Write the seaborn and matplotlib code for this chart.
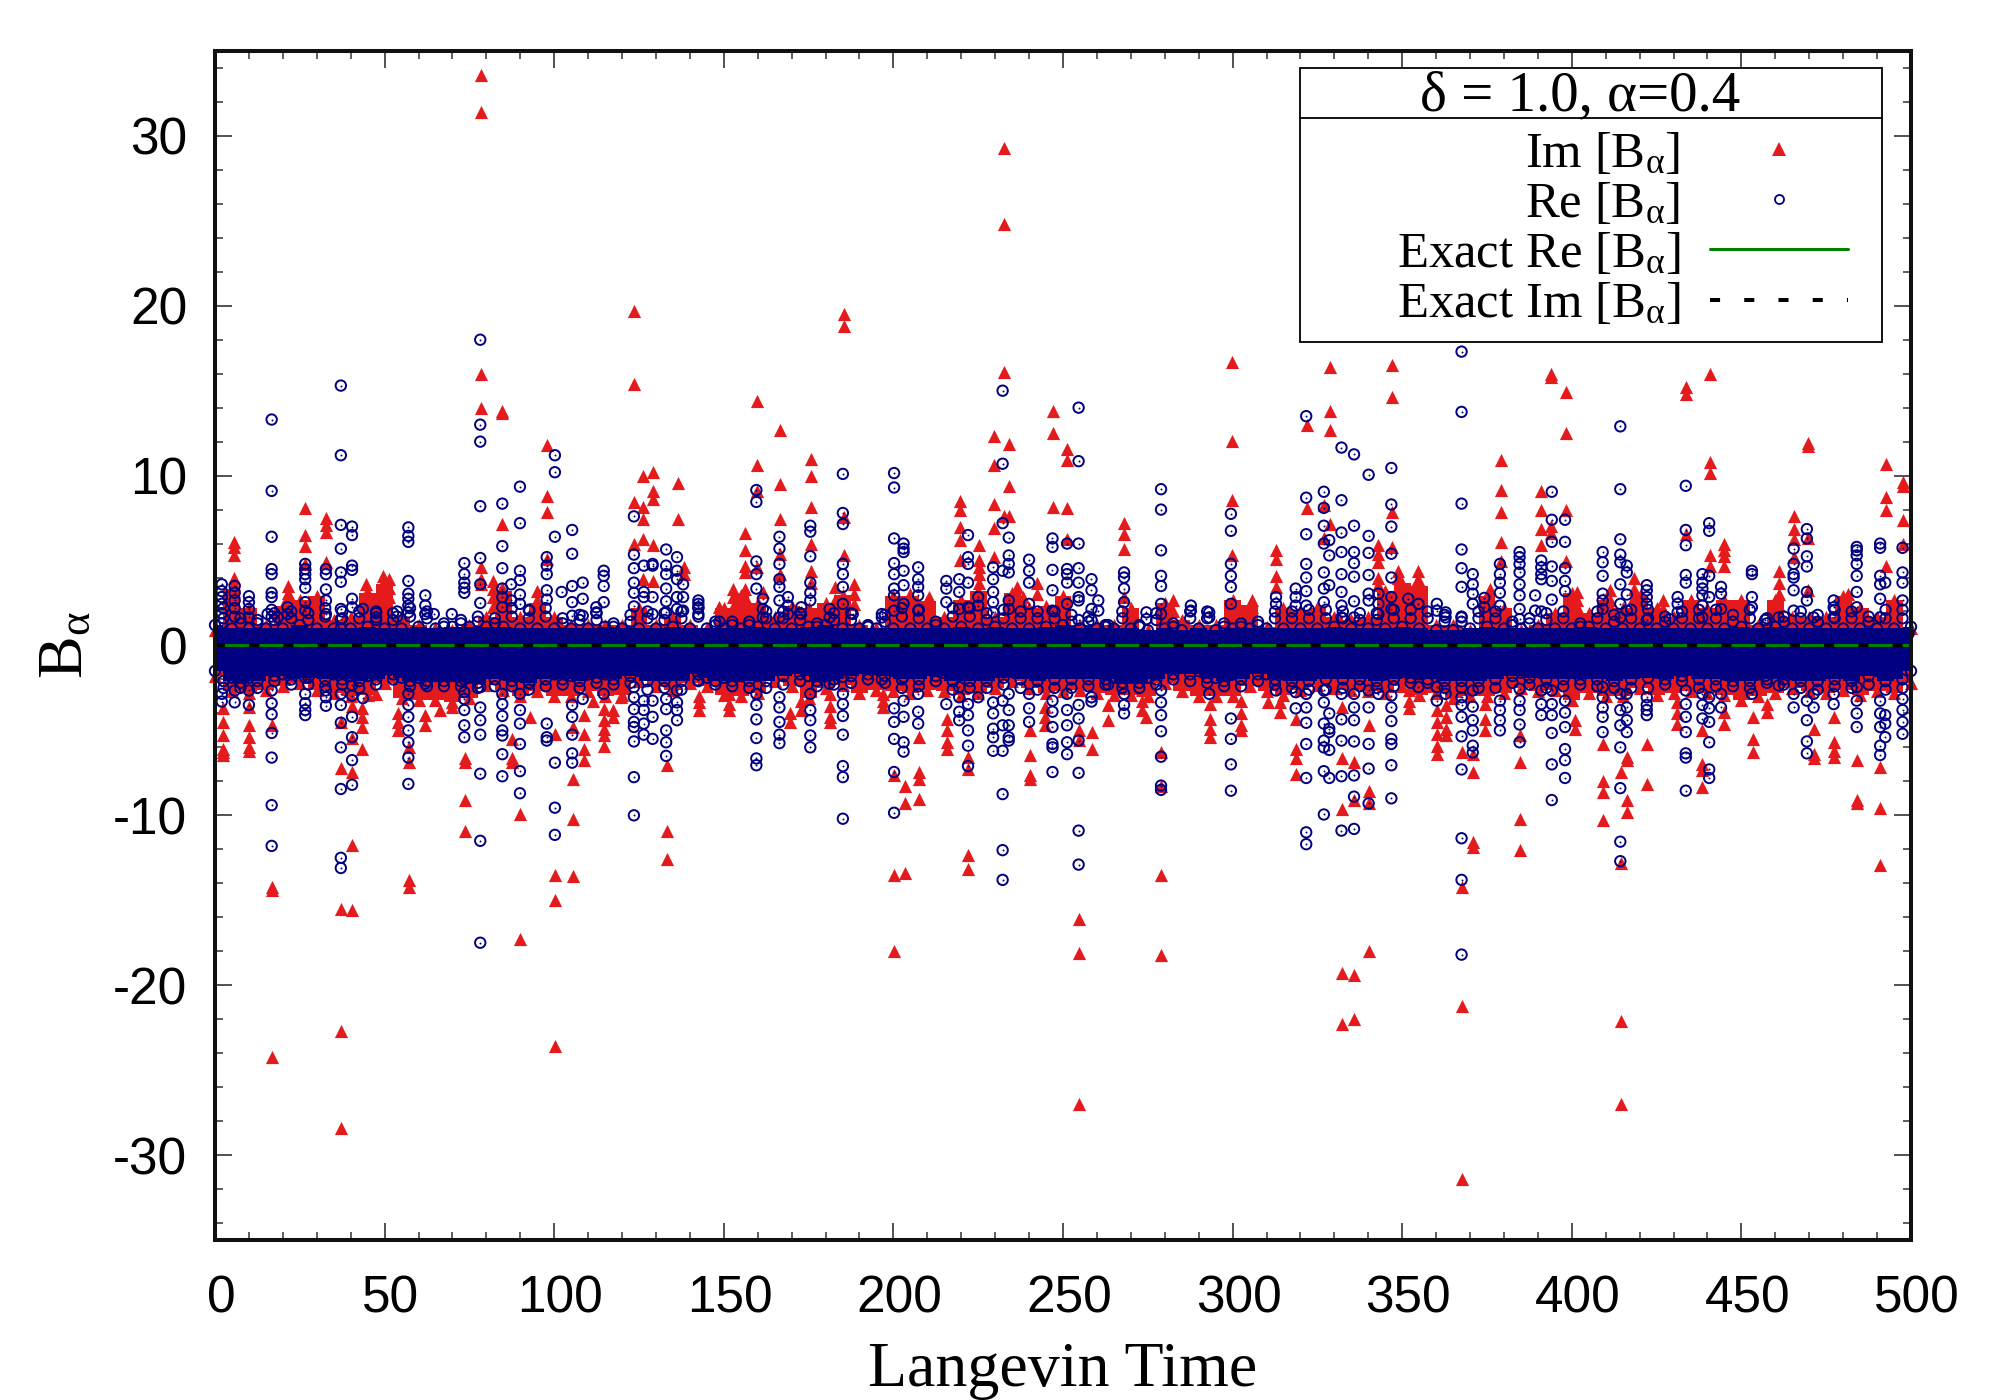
import pandas as pd
import seaborn as sns
import matplotlib.pyplot as plt
from matplotlib.lines import Line2D
from matplotlib.patches import Rectangle
from matplotlib.transforms import ScaledTranslation

# columns of isolated points
im_times = [2.3, 5.7, 9.9, 16.7, 21.4, 26.6, 32.7, 37.2, 40.5, 43.3, 44.5, 47.5, 49.5, 51.4, 53.9, 57.1, 62, 66.4, 70, 73.8, 78.3, 82, 84.7, 87.5, 89.8, 93, 95, 97.8,
            100.3, 105.5, 108.7, 111.4, 114.8, 117.3, 119.7, 123.6, 126.3, 129.2, 133.3, 136.4, 138.4, 142.8, 148.7, 151.6, 152.7, 156.2, 159.7, 161.5, 166.7, 169.4, 172.8, 175.6, 181.2, 182.7, 185.3, 188.3, 196.9,
            200.2, 203.5, 204.8, 207.6, 210.5, 215.8, 219.5, 222.1, 225.3, 229.8, 232.5, 234, 236.3, 238.2, 240.2, 242.2, 244.6, 247.1, 251.2, 254.6, 258.6, 263.3, 268, 273.3, 274.6, 279, 282.5, 293.3,
            299.7, 302.6, 305.6, 310.5, 312.8, 314, 318.6, 321.8, 326.9, 328.6, 332.3, 335.9, 340.2, 343, 346.9, 348.9, 352, 354.8, 360.2, 362.8, 367.6, 371, 374.4, 375.9, 379, 384.8, 390.9, 393.9, 398.2,
            400.8, 401.5, 409.3, 411.3, 414.4, 416.2, 418.2, 422.1, 426.8, 431, 433.7, 438.5, 440.7, 445, 453.3, 457.5, 461, 465.4, 469.5, 471.3, 477.2, 481.3, 484, 491, 492.5, 497.6]
im_values = [[-3.7, -4.5, -5.3, -6.1, -6.3, -6.45], [6.1, 5.8, 5.35, 4.0, 3.6, 3.2], [-3.6, -4.7, -5.4, -6, -6.2], [-4.7, -14.2, -14.4, -24.2], [3.5, 3.1, 2.85, 2.45], [8.1, 6.5, 5.85, 4.8], [7.5, 7.1, 6.7, 4.9], [-4.5, -7.2, -15.5, -22.7, -28.4], [-3.55, -5.45, -7.45, -11.75, -15.6], [-3.7, -4.2, -4.8, -6.1], [3.6, 3.05, 2.65, 2], [-2.85], [4.1, 3.7, 3.2, 2.65, 2.15], [3.9, 3.4, 2.85], [-4, -4.5, -5], [-6, -6.85, -13.8, -14.2], [-4.1, -4.7], [-3.8], [-3.6], [-6.65, -6.85, -9.1, -10.95], [33.6, 31.4, 16, 14, 4.6, 3.9, 3.6], [3.8, 3.3, 2.85, 2.25], [13.8, 13.7, 7.15, 3.4, 3], [-5.5, -6.65, -6.85], [-9.9, -17.3], [-4.2], [3.2, 2.65, 2.05], [11.8, 8.8, 7.85, 5.1],
             [-5.2, -13.5, -15, -23.6], [-4.8, -7.85, -10.2, -13.6], [-4.1, -5.2, -6.1, -6.75], [-3.25], [-3.75, -4.4, -4.9, -5.3, -5.9], [-3.8, -4.2], [-3.05], [19.7, 15.4, 8.45, 6], [10, 8.15, 7.45, 6.25, 3.9], [10.2, 9.1, 8.6, 5.9, 3.8], [-7.05, -10.9, -12.55], [9.55, 7.45], [4.6, 4.2], [-2.95, -3.35, -3.8], [2.25], [-2.85, -3.45, -3.8], [3.35, 2.85, 2.25, 1.85], [6.65, 5.6, 4.7, 4.3, 3.35, 2.85, 2.25], [14.4, 10.6, 9.1, 4.6], [3.15], [12.7, 9.5, 7.45, 5.4, 4.2], [-4, -4.5], [-3.25, -3.8], [11, 9.95, 8.15, 6, 4.4, 3.7], [-2.85, -3.55, -4.2, -4.5], [3.45, 2.65], [19.5, 18.8, 7.55, 5.3], [3.6, 3.05, 2.45], [-2.85, -3.25, -3.6],
             [-7.65, -13.5, -18], [-8.25, -9.3, -13.4], [3.05, 2.45], [-5.4, -7.45, -7.85, -9.05], [2.85, 2.35, 1.85], [-4.3, -5, -5.7, -6.1], [8.5, 8, 7, 6.2, 5.05], [-6.55, -7.25, -12.35, -13.15], [5.9, 5.05, 4.6, 4.2, 3.7], [12.35, 10.65, 8.3, 6.9, 5.2], [29.3, 24.8, 16.1, 7.65], [11.85, 9.4, 7.65], [3.45, 2.85], [2.85, 2.45], [-5, -6.45, -7.65, -7.85], [3.7, 3.05], [-3.65, -4.2, -4.7], [13.8, 12.5, 8.15], [11.55, 10.9, 8.1, 6.25], [-5, -5.55, -16.1, -18.1, -27], [-5.1, -6.1], [-3.5, -4.4], [7.2, 6.55, 5.7, 2.85], [-2.65, -3.25, -3.8], [-4.2], [-6.25, -8.25, -13.5, -18.2], [2.65, 2.05], [-3.45, -4.3, -4.9, -5.4],
             [16.7, 12.05, 8.55, 5.3], [-3.25, -4, -4.7, -5], [2.65, 2.25], [-3.35], [5.6, 5.1, 4.1, 3.45], [-3.35, -3.9], [-4.3, -6.1, -6.65, -7.55], [13, 8.1], [8.25, 6.35], [16.4, 13.8, 12.7, 7.15], [-3.6, -6.65, -9.6, -19.3, -22.3], [-6.85, -9.1, -19.4, -22], [-4.7, -8.55, -9.3, -18], [5.9, 5.4, 4.9, 4, 3.55], [16.5, 14.6, 7.85, 5.8], [4.4, 4, 3.45, 2.85], [-2.65, -3.25, -3.7], [4.4, 3.9, 3.25], [-3.8, -4.5, -5.2, -5.9, -6.4], [-3.5, -4.2, -4.9, -5.3], [-6.3, -14.2, -21.2, -31.4], [-6.4, -7.45, -11.55, -11.85], [-3.45, -4.3, -5], [3.35, 2.85], [10.9, 9.15, 7.85, 6.1, 5], [-5.3, -6.85, -10.2, -12.05], [9.1, 7.95, 6.85, 5.9], [16, 15.8, 7.05, 6.65], [14.9, 12.5, 8, 5],
             [-4.4, -4.9], [3.15, 2.65, 2.25], [-5.8, -7.95, -8.65, -10.3], [3.25, 2.65], [-7.45, -12.8, -22.1, -27], [-6.55, -6.75, -9.1, -9.8], [4, 3.35, 2.85], [-5.8, -8.15], [2.65, 2.15], [-3.35, -4, -4.6], [15.2, 14.8, 6.55], [-5, -6.95, -7.35, -8.35], [16, 10.8, 10.15, 5.3, 4.65], [6, 5.6, 5.25, 4.7, -3.9, -4.6], [-4.2, -5.5, -6.3], [-3.45, -3.9], [4.4, 3.7, 3.05, 2.35], [7.65, 6.85, 6.25, 5.2], [11.9, 11.75, 6.3, 3.25], [-4.9, -6.4, -6.65], [-4.2, -5.7, -6.2, -6.55], [3.05, 2.45], [-6.75, -9.1, -9.3], [-7.15, -9.55, -12.95], [10.7, 8.75, 8, 4.7], [9.6, 9.4, 7.4, 6]]

re_times = [2, 5.8, 10, 15.5, 16.7, 18.5, 21.4, 26.6, 32.7, 37.1, 40.4, 43.6, 47.5, 53.7, 57, 62, 64.5, 69.8, 73.5, 78.2, 84.7, 87.3, 89.9, 92.7, 97.8,
            100.2, 102.2, 105.3, 108.4, 112.4, 114.6, 123.5, 126.4, 129, 133, 136.2, 138, 142.5, 148.7, 159.6, 161.5, 166.4, 168.9, 172.8, 175.5, 181.2, 185.1, 188, 196.6,
            200.2, 203, 207.3, 215.6, 219.4, 222, 225, 229.4, 232.2, 234, 240, 246.9, 251.2, 254.6, 258.4, 260.4, 263.3, 268, 274.6, 278.9, 287.7, 293.1,
            299.5, 312.8, 318.6, 321.7, 326.9, 328.5, 332.1, 335.8, 340.1, 343, 346.8, 351.8, 354.8, 360.2, 362.8, 367.5, 370.8, 374.2, 378.8, 384.6, 389.2, 391, 394.1, 398,
            409.1, 414.3, 416.2, 422.1, 428.8, 431.2, 433.6, 438.5, 440.5, 444, 453.1, 457, 461, 465.4, 469.3, 471.3, 477.2, 484, 490.9, 492.4, 497.5, 499.3]
re_values = [[3.6, 3.2, 2.85, 2.45, 1.9, 1.3, -2.85, -3.3], [3.5, 3.1, 2.65, 2.2, 1.7, -2.65, -3.35], [2.9, 2.55, 2.15, 1.65, -2.65, -3.5], [1.85], [13.3, 9.1, 6.4, 4.5, 4.2, 3.1, 2.85, 2.1, 1.7, -2.65, -3.4, -4.05, -5.15, -6.6, -9.4, -11.8], [1.65], [2.25, 1.85], [4.8, 4.5, 4.2, 3.9, 3.4, 2.55, 2.05, -1.9, -2.85, -3.4, -3.8, -4.1], [4.5, 4.2, 3.3, 2.65, 1.85, -2.65, -3.05, -3.55], [15.3, 11.2, 7.1, 5.7, 4.3, 3.75, 2.15, 1.55, 1, -2.85, -3.5, -4.55, -6, -8.45, -12.5, -13.1], [7, 6.5, 4.7, 4.45, 2.75, 2.25, -2.35, -2.95, -4.2, -5.4, -6.75, -8.2], [2.15, -3.1], [2, 1.65], [2, 1.7], [6.95, 6.45, 6.1, 3.8, 3.05, 2.75, 2.35, 1.95, -2.85, -3.5, -4.2, -5, -5.7, -6.6, -8.15], [2.95, 2.35, 1.85, -2.25], [1.85], [1.85], [4.85, 4.2, 3.7, 3.4, 3.1, -2, -2.75, -3.15, -3.8, -4.7, -5.4], [18, 13, 12, 8.2, 5.15, 3.6, 2.5, -2.45, -3.65, -4.4, -5.25, -7.55, -11.5, -17.5], [8.35, 5.85, 4.55, 3.35, 2.85, 2.25, -2.85, -3.45, -4.15, -5, -5.3, -6.4, -7.7], [3.6, 2.65], [9.35, 7.2, 4.4, 3.85, 3, 2.45, -2.85, -3.8, -4.6, -5.8, -7.4, -8.7], [2.05, -2.25], [5.2, 4.7, 4.2, 3.25, 2.7, -4.6, -5.4, -5.6],
             [11.2, 10.2, 6.4, -6.9, -9.55, -11.15], [3.15], [6.8, 5.4, 3.5, 2.55, 1.75, -3.5, -4.2, -5.25, -6.35, -6.9], [3.7, 2.75, 1.75, -3.15], [2.25, 1.95], [4.4, 4.1, 3.5, 2.55, -2.85], [7.6, 5.35, 4.55, 3.7, 3.1, 2.3, -2.45, -3.05, -3.75, -4.5, -4.8, -5.65, -7.75, -10], [4.7, 3.15, 2.85, -3.25, -3.8, -4.6, -5.25], [4.8, 4.7, 2.85, 1.85, -3.25, -4.2, -5.5], [5.65, 4.7, 4.2, 3.35, 2.6, 1.95, -3.15, -3.75, -5, -5.7, -6.5], [5.2, 4.4, 3.9, 2.85, 2.15, -2.65, -3.35, -3.8, -4.4], [3.6, 2.85, 2.05], [2.65, 2.45, 2.25, 1.85, -2.05], [1.4], [9.15, 8.45, 4.95, 4.2, 3.35, -2.85, -3.5, -4.35, -5.45, -6.65, -7.05], [2.75, 2.15, 1.65], [6.4, 5.7, 4.8, 3.9, 3.45, 2.65, 1.65, -3.05, -3.65, -4.5, -5.25, -5.75], [2.85, 2.35, 1.85], [2.25, 1.85], [7.05, 6.7, 5.25, 3.7, 3.1, 2.65, -2.85, -3.8, -4.4, -5.3, -6], [2.15, 1.65, -2.25], [10.1, 7.8, 7.15, 4.8, 4.2, 3.45, 2.45, -1.85, -2.85, -3.45, -4.15, -5.25, -7.1, -7.75, -10.2], [1.85], [1.85, 1.65, -2],
             [10.15, 9.3, 6.3, 4.85, 4.2, 3.35, 2.95, 2.05, -3.7, -4.5, -5.5, -7.45, -9.85], [6, 5.7, 5.5, 4.4, 3.55, 2.45, -1.85, -3.25, -4.2, -5.7, -6.25], [4.6, 3.9, 3.45, 2.95, 2.05, -2.85, -3.9, -4.6], [3.8, 3.35, 2.55, -3.45], [3.9, 3.15, 2.15, -2.45, -3.05, -3.9, -4.4], [6.5, 5.2, 4.8, 3.7, 2.25, -3.45, -4.1, -5, -5.9, -7.1], [2.85, 2.35, -3.05], [4.6, 3.9, 3.15, 2.55, 1.95, -3.35, -4, -4.9, -5.4, -6.2], [15, 10.7, 7.2, 4.4, -3.25, -4.7, -6.2, -8.75, -12.05, -13.8], [6.35, 5.3, 4.8, 4.3, 2.65, 2.15, -2.85, -3.8, -4.7, -5.4, -5.6], [5.05, 4.4, 3.7, 2.45, -2.85, -3.7, -4.5], [6.3, 5.8, 4.45, 3.25, 2.05, -3.25, -3.9, -4.8, -5.8, -6, -7.45], [6, 4.5, 4.2, 3.7, 2.45, -2.85, -3.8, -4.7, -5.7, -6.4], [14, 10.85, 6, 4.55, 3.7, 2.85, 2.65, 1.5, -3.5, -4.3, -5.6, -7.5, -10.9, -12.9], [3.9, 3.25, 2.15, 1.5, -3.05, -3.3], [2.65, 2.05], [1.2, -2.3], [4.3, 4, 3.35, 2.55, -2.85, -3.5, -4], [1.95, 1.55], [9.2, 8, 5.6, 4.1, 3.5, 2.45, 1.85, -2.65, -3.35, -4.1, -5.05, -6.55, -8.25, -8.5], [2.35, 2.05], [1.95, 1.65, -2.85],
             [7.75, 6.75, 4.8, 4.1, 3.45, 2.45, -4.3, -5.5, -7, -8.55], [2.85, 2.45, -2.65], [3.35, 2.85, 2.35, -2.75, -3.7], [13.5, 8.7, 6.55, 4.8, 4, 3.2, 2.35, -2.85, -3.65, -4.55, -5.8, -7.8, -11, -11.7], [9.05, 8.1, 7.05, 6, 4.3, 3.35, 2.55, -2.65, -3.35, -4.6, -5.6, -6, -7.4, -9.95], [6.2, 5.3, 3.55, -4, -4.9, -5.1, -6.15, -7.8], [11.65, 8.55, 6.65, 5.5, 4.2, 3.15, 2.35, 1.65, -2.85, -4.35, -5.6, -7.7, -10.9], [11.25, 7.05, 5.5, 4.85, 4.05, 2.6, 1.65, -2.85, -3.65, -4.4, -5.65, -7.65, -8.9, -10.8], [10.05, 6.45, 5.45, 4.15, 3.05, 2.65, -2.65, -3.65, -5.8, -7.25, -9.3], [3.05, 2.45, 1.85, -2.85], [10.45, 8.3, 7, 5.4, 4, 2.85, 2.15, -2.95, -3.65, -4.45, -5.5, -5.8, -7.05, -9], [2.75], [2.45, -2.45], [2.45, 2.05, -2.45, -3.25], [1.95, 1.65, -2.85], [17.3, 13.75, 8.35, 5.65, 4.55, 3.45, 1.65, -3.05, -3.5, -4.2, -5.35, -7.3, -11.35, -13.8, -18.2], [4.2, 3.6, 3.05, 2.45, -2.65, -3.6, -4.4, -5, -5.9, -6.3], [2.8, 2.25], [4.8, 4.2, 3.7, 3.1, 2.35, -3.25, -3.8, -4.4, -5], [5.5, 5.2, 4.8, 4.3, 3.6, 2.95, 2.15, 1.55, -2.55, -3.25, -3.8, -4.65, -5.7], [2.95, 2.05], [5, 4.6, 4.2, 3.9, 2, -2.65, -3.45, -4.1], [9.05, 7.4, 6.1, 4.65, 3.8, 2.7, -2.65, -3.45, -4.1, -5.15, -7, -9.1], [7.4, 6.1, 4.55, 3.8, 3.2, -3.25, -3.95, -4.8, -6.1, -6.75, -7.8],
             [5.5, 4.9, 4.1, 3.05, 2.65, 2.15, -2.45, -3.05, -3.65, -4.2, -5.1], [12.9, 9.2, 6.25, 5.35, 4.9, 3.6, 2.45, 1.65, -2.85, -3.8, -4.7, -6, -8.4, -11.55, -12.7], [4.7, 4.3, 3, 2.05, -2.85, -3.65, -4.4, -5.1], [3.55, 3.25, 2.85, 2.45, 1.5, -3.05, -3.5, -3.8, -4.1], [1.55], [2.85, 2.45, 1.95], [9.4, 6.8, 5.9, 4.15, 3.7, -2.65, -3.45, -4.2, -5.1, -6.35, -6.6, -8.55], [4.2, 3.7, 3.35, 2.95, 2.35, 1.65, -2.85, -3.5, -4.3], [7.2, 6.75, 4.1, 2.85, -3.05, -3.7, -4.5, -5.7, -7.3, -7.8], [3.45, 3.05, 2.15, -2.85, -3.65], [4.4, 4.2, 2.85, 2.25, -2.85], [1.5, -1.8], [1.65, -2.35], [5.7, 4.8, 4.2, 4, 3.25, 2.05, -2.85, -3.65], [6.85, 6.3, 5.25, 4.65, 3.15, 2.65, -3.25, -4.4, -5.65, -6.35], [1.65, -2.85, -3.65], [2.65, 2.25, 1.65, -2.85, -3.45], [5.8, 5.6, 5.3, 4.8, 4.1, 3.15, 2.25, -2.45, -3.25, -4, -4.8], [6, 5.75, 4.1, 3.6, 2.75, 1.65, -3.25, -4, -4.8, -5.9, -6.45], [3.7, -4.1, -4.6, -5.4], [5.75, 4.3, 3.7, 2.65, -3.15, -3.8, -4.5, -5.2], [0.7]]

# edges of the solid band around zero, estimated every 5 time units
band_t = [0, 5, 10, 15, 20, 25, 30, 35, 40, 45, 50, 55, 60, 65, 70, 75, 80, 85, 90, 95,
          100, 105, 110, 115, 120, 125, 130, 135, 140, 145, 150, 155, 160, 165, 170, 175, 180, 185, 190, 195,
          200, 205, 210, 215, 220, 225, 230, 235, 240, 245, 250, 255, 260, 265, 270, 275, 280, 285, 290, 295,
          300, 305, 310, 315, 320, 325, 330, 335, 340, 345, 350, 355, 360, 365, 370, 375, 380, 385, 390, 395,
          400, 405, 410, 415, 420, 425, 430, 435, 440, 445, 450, 455, 460, 465, 470, 475, 480, 485, 490, 495, 500]
im_hi = [0.9, 3.3, 2.2, 1.2, 2.3, 2.7, 2.9, 1.5, 1.7, 3.1, 3.6, 1.7, 1.2, 1, 0.9, 1.2, 1.7, 3.2, 1.7, 2.5,
         1.7, 1.2, 1.2, 1.2, 1.2, 2.2, 1.2, 1.7, 1.2, 1, 2.2, 3, 2.5, 1.7, 2.3, 2.2, 2.5, 3, 1.2, 1,
         2.9, 2.9, 2.6, 1.7, 2.7, 3.2, 1.7, 3.1, 2.2, 2.3, 2.9, 1.2, 1.2, 1.2, 2.2, 0.9, 2.5, 1.5, 1.2, 1.2,
         2.7, 2.4, 1.1, 2.2, 2, 2.2, 1.7, 1.5, 1.7, 3.2, 3.7, 3.5, 1.2, 1.2, 0.9, 2.9, 2.2, 0.9, 1.2, 1.9,
         3.1, 1.9, 2.7, 2.2, 2.9, 2.2, 1.7, 2.7, 2.2, 2.7, 2.7, 1.2, 2.7, 1.7, 1.7, 1.7, 2.9, 2.2, 1.7, 2.7, 1]
im_lo = [-1.8, -2.7, -2.8, -2.6, -2.4, -2.2, -2.6, -2.8, -3, -2.9, -2.2, -3.1, -3.2, -3.2, -3.3, -3.1, -2.3, -2.6, -3, -2.7,
         -3, -3, -2.7, -3, -2.9, -2.1, -2.4, -2.6, -2.2, -2.4, -2.9, -3, -2.8, -2.1, -2.4, -3.1, -2.5, -2.3, -2.8, -2.6,
         -2.7, -2.8, -2.6, -2.7, -2.9, -2.8, -2.5, -2.1, -2.5, -2.8, -2.7, -2.6, -2.8, -2.9, -2.9, -3, -2.2, -2.7, -3, -3,
         -3, -2.4, -2.7, -2.9, -2.6, -2.3, -2.5, -2.6, -2.7, -2.8, -2.4, -2.9, -2.8, -3.1, -3, -3, -2.8, -2.5, -2.7, -2.6,
         -3.2, -2.8, -3, -3, -2.5, -2.9, -2.8, -2.7, -2.8, -2.9, -3.2, -3, -2.8, -2.5, -2.7, -2.8, -2.6, -2.9, -2.7, -2.8, -2.2]
re_hi = [1.2, 1, 1, 1, 1, 1.2, 1, 1, 1, 1.1, 1, 1, 1.1, 1, 1.1, 1.1, 1.1, 1.1, 1, 1,
         1, 1, 1, 1.1, 1, 1, 1, 1.1, 1, 1, 1, 1, 1.1, 1, 1, 1.1, 1.2, 1, 1, 1,
         1, 1, 1, 1, 1.1, 1, 1.1, 1, 1, 1.1, 1.2, 1, 1, 1, 1, 0.9, 1, 0.9, 1, 0.9,
         1, 1, 1, 1, 1, 1, 1.1, 1, 1, 1, 1.1, 1, 0.9, 0.9, 1, 1.1, 1, 1, 1, 1,
         1, 1.1, 1, 1, 1, 1, 1, 1, 1, 1, 1.1, 1, 1.1, 1, 1, 1, 1, 1, 1, 1, 1.1]
re_lo = [-1.5, -1.9, -1.9, -1.4, -1.7, -1.4, -1.4, -1.7, -1.8, -1.8, -1.4, -1.9, -1.9, -1.8, -1.8, -1.9, -1.5, -1.7, -1.8, -1.6,
         -1.7, -1.8, -1.7, -1.7, -1.3, -1.5, -1.5, -1.5, -1.2, -1.9, -1.9, -1.8, -1.8, -1.2, -1.2, -1.8, -1.8, -1.4, -1.3, -1.4,
         -1.5, -1.6, -1.4, -1.6, -1.7, -1.7, -1.4, -1.1, -1.5, -1.5, -1.5, -1.3, -1.6, -1.9, -1.9, -1.9, -1.3, -1.3, -1.5, -1.9,
         -1.7, -1.3, -1.7, -1.7, -1.5, -1.3, -1.3, -1.5, -1.6, -1.7, -1.4, -1.7, -1.6, -1.7, -1.7, -1.4, -1.4, -1.6, -1.5, -1.5,
         -1.6, -1.4, -1.6, -1.4, -1.2, -1.6, -1.4, -1.3, -1.4, -1.7, -1.6, -1.7, -1.6, -1.7, -1.6, -1.5, -1.6, -1.3, -1.5, -1.4, -1.5]

# stacked circles just outside the band, between the stations above
stack_t = [2.5, 7.5, 12.5, 17.5, 22.5, 27.5, 32.5, 37.5, 42.5, 47.5, 52.5, 57.5, 62.5, 67.5, 72.5, 77.5, 82.5, 87.5, 92.5, 97.5,
           102.5, 107.5, 112.5, 117.5, 122.5, 127.5, 132.5, 137.5, 142.5, 147.5, 152.5, 157.5, 162.5, 167.5, 172.5, 177.5, 182.5, 187.5, 192.5, 197.5,
           202.5, 207.5, 212.5, 217.5, 222.5, 227.5, 232.5, 237.5, 242.5, 247.5, 252.5, 257.5, 262.5, 267.5, 272.5, 277.5, 282.5, 287.5, 292.5, 297.5,
           302.5, 307.5, 312.5, 317.5, 322.5, 327.5, 332.5, 337.5, 342.5, 347.5, 352.5, 357.5, 362.5, 367.5, 372.5, 377.5, 382.5, 387.5, 392.5, 397.5,
           402.5, 407.5, 412.5, 417.5, 422.5, 427.5, 432.5, 437.5, 442.5, 447.5, 452.5, 457.5, 462.5, 467.5, 472.5, 477.5, 482.5, 487.5, 492.5, 497.5]
re_top = [2.2, 1.6, 1.5, 1.9, 2, 1.9, 2.2, 2, 2, 1.9, 1.9, 2.2, 2, 1.3, 1.5, 1.7, 1.6, 2.2, 2.1, 2.2,
          1.6, 1.8, 1.9, 1.3, 1.8, 2, 1.9, 2, 2.2, 1.4, 1.4, 1.4, 2, 2, 1.9, 1.3, 1.9, 1.9, 1.2, 1.8,
          2.2, 2.1, 1.4, 2.2, 2.2, 1.9, 2.1, 2, 2, 2, 1.8, 1.7, 1.2, 2, 1.2, 1.9, 1.3, 2, 2, 1.3,
          1.3, 1.4, 2, 2, 2.1, 2.1, 2, 1.9, 1.9, 2.1, 2.1, 2, 1.8, 1.7, 2, 2, 1.4, 1.6, 1.9, 2,
          1.3, 2, 1.8, 2.1, 2.1, 1.7, 2, 2.1, 2.1, 1.8, 2.1, 1.6, 1.7, 2, 1.8, 2.1, 2, 1.7, 2.1, 2.1]
re_top2 = [1.6, 1.3, 1.3, 1.5, 1.6, 1.5, 1.7, 1.6, 1.6, 1.5, 1.5, 1.7, 1.6, 1.1, 1.3, 1.4, 1.3, 1.7, 1.6, 1.7,
           1.3, 1.5, 1.5, 1.1, 1.4, 1.6, 1.5, 1.6, 1.7, 1.2, 1.2, 1.2, 1.6, 1.6, 1.5, 1.1, 1.5, 1.5, 1.1, 1.4,
           1.7, 1.6, 1.2, 1.7, 1.7, 1.5, 1.6, 1.6, 1.6, 1.6, 1.4, 1.4, 1.1, 1.6, 1.1, 1.5, 1.1, 1.6, 1.6, 1.1,
           1.1, 1.2, 1.6, 1.6, 1.6, 1.6, 1.6, 1.5, 1.5, 1.6, 1.6, 1.6, 1.4, 1.4, 1.6, 1.6, 1.2, 1.3, 1.5, 1.6,
           1.1, 1.6, 1.4, 1.6, 1.6, 1.4, 1.6, 1.6, 1.6, 1.4, 1.6, 1.3, 1.4, 1.6, 1.4, 1.6, 1.6, 1.4, 1.6, 1.6]
re_bot = [-2.5, -2.5, -2.5, -2.1, -2.3, -2.3, -2.4, -2.3, -2.5, -2.3, -2, -2.4, -2.4, -2.4, -2.4, -2.5, -2.4, -2.4, -2.6, -2.4,
          -2.3, -2.5, -2.2, -2.3, -2.2, -2.6, -2.5, -2.6, -2.1, -2.3, -2.4, -2.5, -2.5, -2.3, -2.1, -2.4, -2.3, -2.2, -2, -2.2,
          -2.5, -2.4, -2.1, -2.6, -2.5, -2.5, -2.3, -2.5, -2.6, -2.5, -2.5, -2.4, -2.3, -2.5, -2.5, -2.3, -2, -2.1, -2.2, -2.4,
          -2.4, -2.1, -2.3, -2.5, -2.6, -2.6, -2.5, -2.4, -2.5, -2.4, -2.2, -2.2, -2.5, -2.5, -2.5, -2.5, -2.2, -2.3, -2.5, -2.4,
          -2.3, -2.4, -2.5, -2.5, -2.5, -2.3, -2.1, -2.5, -2.4, -2.4, -2.5, -2.2, -2.3, -2.5, -2.6, -2.4, -2.5, -2.3, -2.6, -2.5]
re_bot2 = [-2.1, -2.2, -2.1, -1.8, -2, -1.9, -2, -2, -2.1, -2, -1.7, -2.1, -2.1, -2.1, -2.1, -2.2, -2, -2.1, -2.2, -2,
           -2, -2.1, -1.9, -2, -1.8, -2.1, -2.1, -2.1, -1.7, -2.1, -2.1, -2.1, -2.1, -1.8, -1.7, -2.1, -2, -1.8, -1.7, -1.8,
           -2, -2, -1.8, -2.1, -2.1, -2.1, -1.9, -2, -2.1, -2, -2, -2, -2, -2.2, -2.2, -2, -1.7, -1.7, -1.9, -2.1,
           -2, -1.7, -2, -2.1, -2.1, -2, -2, -2, -2.1, -2, -1.9, -2, -2.1, -2.1, -2.1, -2, -1.8, -1.9, -2, -2,
           -2, -2, -2.1, -2, -1.9, -2, -1.8, -2, -2, -2.1, -2.1, -2, -2, -2.1, -2.1, -2, -2.1, -1.8, -2.1, -2]

exact_t = [0, 500]
exact_re = [0, 0]
exact_im = [0, 0]

x_ticks = [0, 50, 100, 150, 200, 250, 300, 350, 400, 450, 500]
x_minor = [v for v in range(0, 501, 10)]
y_ticks = [-30, -20, -10, 0, 10, 20, 30]
y_minor = [v for v in range(-34, 35, 2)]

red = "#e41a1c"
navy = "#000080"
green = "#008000"
serif = "Liberation Serif"

sns.set_theme(style="ticks")
plt.rcParams["font.family"] = ["Liberation Sans", "DejaVu Sans"]
plt.rcParams["mathtext.fontset"] = "custom"
plt.rcParams["mathtext.rm"] = serif
plt.rcParams["mathtext.it"] = serif
plt.rcParams["mathtext.default"] = "rm"
plt.rcParams["axes.unicode_minus"] = False
plt.rcParams["text.color"] = "black"
plt.rcParams["axes.labelcolor"] = "black"

im_df = pd.DataFrame({"t": im_times, "v": im_values}).explode("v").astype(float)
re_df = pd.DataFrame({"t": re_times, "v": re_values}).explode("v").astype(float)
band_df = pd.DataFrame({"t": band_t, "im_hi": im_hi, "im_lo": im_lo, "re_hi": re_hi, "re_lo": re_lo})
stack_df = pd.DataFrame({"t": stack_t, "top": re_top, "top2": re_top2, "bot": re_bot, "bot2": re_bot2})
exact_df = pd.DataFrame({"t": exact_t, "re": exact_re, "im": exact_im})

fig, ax = plt.subplots(figsize=(20, 14), dpi=100)
fig.subplots_adjust(left=0.1075, right=0.9555, bottom=0.1143, top=0.9636)

tri = dict(marker="^", s=90, color=red, linewidth=0, clip_on=False, legend=False, ax=ax)
ax.fill_between(band_df["t"], band_df["im_lo"], band_df["im_hi"], color=red, linewidth=0, zorder=2, step="mid")
sns.scatterplot(data=band_df, x="t", y="im_hi", zorder=2, **tri)
sns.scatterplot(data=band_df, x="t", y="im_lo", zorder=2, **tri)
sns.scatterplot(data=im_df, x="t", y="v", zorder=2, **tri)

circ = dict(marker="o", s=56, facecolor="none", edgecolor=navy, linewidth=1.4, clip_on=False, legend=False, ax=ax, zorder=3)
ax.fill_between(band_df["t"], band_df["re_lo"], band_df["re_hi"], color=navy, linewidth=0, zorder=3, step="mid")
ax.fill_between(stack_df["t"], stack_df["bot2"], 0, color=navy, linewidth=0, zorder=3, step="mid")
sns.scatterplot(data=band_df, x="t", y="re_hi", **circ)
sns.scatterplot(data=band_df, x="t", y="re_lo", **circ)
for col in ["top", "top2", "bot", "bot2"]:
    sns.scatterplot(data=stack_df, x="t", y=col, **circ)
sns.scatterplot(data=re_df, x="t", y="v", **circ)
sns.scatterplot(data=re_df, x="t", y="v", marker="o", s=2, color=navy, linewidth=0, legend=False, ax=ax, zorder=3)

sns.lineplot(data=exact_df, x="t", y="re", color=green, linewidth=2.2, ax=ax, zorder=4)
sns.lineplot(data=exact_df, x="t", y="im", color="black", linewidth=2.9, linestyle=(0, (2.5, 6)), ax=ax, zorder=5)

ax.set_xlim(0, 500)
ax.set_ylim(-35, 35)
ax.set_xticks(x_ticks)
ax.set_xticks(x_minor, minor=True)
ax.set_yticks(y_ticks)
ax.set_yticks(y_minor, minor=True)
ax.tick_params(which="major", direction="in", top=True, right=True, length=12, width=1.2, labelsize=37, colors="black", color="#333333")
ax.tick_params(which="minor", direction="in", top=True, right=True, length=6, width=1.1, color="#333333")
ax.tick_params(axis="x", which="major", pad=25)
ax.tick_params(axis="y", which="major", pad=20)
for side in ax.spines.values():
    side.set_linewidth(2.9)
    side.set_color("#111111")
    side.set_zorder(6)

shift = ScaledTranslation(6 / 100, 0, fig.dpi_scale_trans)
for lab in ax.get_xticklabels():
    lab.set_transform(lab.get_transform() + shift)

ax.set_xlabel("Langevin Time", family=serif, fontsize=46, labelpad=13)
ax.set_ylabel(r"B$_{\mathrm{α}}$", family=serif, fontsize=46, labelpad=12)

# legend box with the title row on top
ax.add_patch(Rectangle((0.6396, 0.755), 0.3431, 0.2303, transform=ax.transAxes, facecolor="white", edgecolor="black", linewidth=1.3, zorder=10))
ax.plot([0.6396, 0.9827], [0.9435, 0.9435], transform=ax.transAxes, color="black", linewidth=1.3, zorder=11)
ax.text(0.8052, 0.962, "δ = 1.0, α=0.4", transform=ax.transAxes, family=serif, fontsize=41, ha="center", va="center", zorder=11)

handles = [
    Line2D([], [], marker="^", markersize=9.5, color=red, linestyle="none", markeredgewidth=0),
    Line2D([], [], marker="o", markersize=6.5, markerfacecolor="none", markeredgecolor=navy, markeredgewidth=1.3, linestyle="none"),
    Line2D([], [], color=green, linewidth=2.2),
    Line2D([], [], color="black", linewidth=2.9, linestyle=(0, (2.5, 6))),
]
labels = [r"Im [B$_{\mathrm{α}}$]", r"Re [B$_{\mathrm{α}}$]", r"Exact Re [B$_{\mathrm{α}}$]", r"Exact Im [B$_{\mathrm{α}}$]"]
leg = ax.legend(handles, labels, markerfirst=False, frameon=False, loc="upper right", bbox_to_anchor=(0.984, 0.962),
                prop={"family": serif, "size": 36.5}, handlelength=2.72, labelspacing=0.07, handletextpad=0.6, borderpad=0.2)
leg.set_zorder(12)

plt.savefig("out.png", dpi=100)
